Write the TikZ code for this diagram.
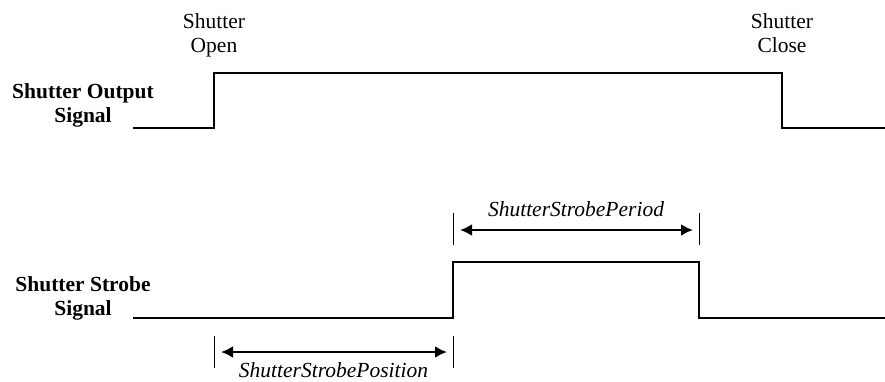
\documentclass[tikz,border=0pt]{standalone}
\usepackage{fontspec}
\setmainfont{Liberation Serif}
\usetikzlibrary{arrows.meta, positioning, calc}

\begin{document}
\begin{tikzpicture}[x=1pt, y=-1pt,
    every node/.style={font=\fontsize{21.5}{24}\selectfont, align=center, inner sep=0pt},
    signal/.style={line width=1.1pt},
    tick/.style={line width=0.9pt},
    dim/.style={{Latex[length=12pt,width=12pt]}-{Latex[length=12pt,width=12pt]}, line width=2.6pt, shorten <=7pt, shorten >=6pt}]
    \useasboundingbox (0,0) rectangle (885,381);

    % Edges of the two signals
    \coordinate (outstart) at (133,128);
    \coordinate (open) at (214,73);
    \coordinate (close) at (782,73);
    \coordinate (outend) at (885,128);
    \coordinate (strobestart) at (133,318);
    \coordinate (strobeon) at (453,262);
    \coordinate (strobeoff) at (699,262);
    \coordinate (strobeend) at (885,318);

    % Labels
    \node[anchor=north] (openlbl) at (214,13) {Shutter\\Open};
    \node[anchor=north] (closelbl) at (782,13) {Shutter\\Close};
    \node[anchor=north, font=\fontsize{21.5}{24}\selectfont\bfseries] (outlbl) at (83,83) {Shutter Output\\Signal};
    \node[anchor=north, font=\fontsize{21.5}{24}\selectfont\bfseries] (strobelbl) at (83,276) {Shutter Strobe\\Signal};

    % Signals
    \draw[signal] (outstart) -| (open) -- (close) |- (outend);
    \draw[signal] (strobestart) -| (strobeon) -- (strobeoff) |- (strobeend);

    % Period
    \coordinate (pl) at (453,230);
    \coordinate (pr) at (699,230);
    \draw[tick] ($(pl)+(0,-17)$) -- ($(pl)+(0,15)$);
    \draw[tick] ($(pr)+(0,-17)$) -- ($(pr)+(0,15)$);
    \draw[dim] (pl) -- node[above=12pt, font=\fontsize{21.5}{24}\selectfont\itshape] (periodlbl) {ShutterStrobePeriod} (pr);

    % Position
    \coordinate (sl) at (214,352);
    \coordinate (sr) at (453,352);
    \draw[tick] ($(sl)+(0,-16)$) -- ($(sl)+(0,16)$);
    \draw[tick] ($(sr)+(0,-16)$) -- ($(sr)+(0,16)$);
    \draw[dim] (sl) -- node[below=9pt, font=\fontsize{21.5}{24}\selectfont\itshape] (poslbl) {ShutterStrobePosition} (sr);
\end{tikzpicture}
\end{document}
